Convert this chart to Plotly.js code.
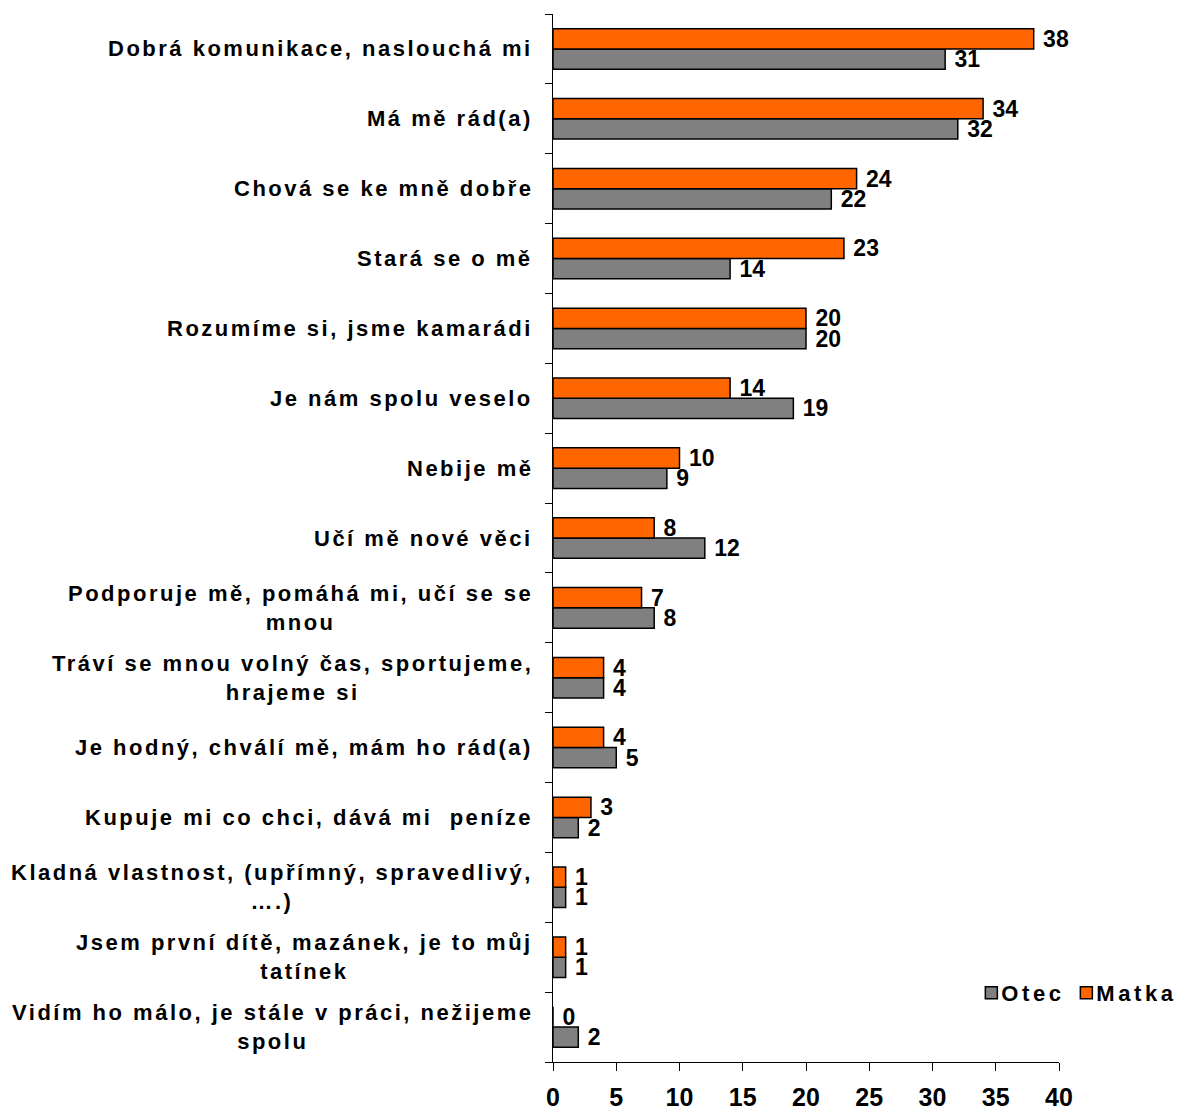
<!DOCTYPE html>
<html>
<head>
<meta charset="utf-8">
<script src="https://cdn.plot.ly/plotly-3.0.1.min.js"></script>
<style>
  html, body { margin: 0; padding: 0; background: #fff; overflow: hidden; }
  .annotation-text { letter-spacing: 2.5px; }
  .legendtext { letter-spacing: 3.6px; }
  .legendsymbols { transform: translateX(10px); }
  .legend .scrollbox { clip-path: none !important; }
</style>
</head>
<body>
<div id="chart" style="width:1177px;height:1111px;"></div>
<script>
// Categories, top to bottom as in the reference
const categories = [
  "Dobrá komunikace, naslouchá mi",
  "Má mě rád(a)",
  "Chová se ke mně dobře",
  "Stará se o mě",
  "Rozumíme si, jsme kamarádi",
  "Je nám spolu veselo",
  "Nebije mě",
  "Učí mě nové věci",
  "Podporuje mě, pomáhá mi, učí se se mnou",
  "Tráví se mnou volný čas, sportujeme, hrajeme si",
  "Je hodný, chválí mě, mám ho rád(a)",
  "Kupuje mi co chci, dává mi  peníze",
  "Kladná vlastnost, (upřímný, spravedlivý, ….)",
  "Jsem první dítě, mazánek, je to můj tatínek",
  "Vidím ho málo, je stále v práci, nežijeme spolu"
];
// Displayed (wrapped) labels
const labels = [
  "Dobrá komunikace, naslouchá mi",
  "Má mě rád(a)",
  "Chová se ke mně dobře",
  "Stará se o mě",
  "Rozumíme si, jsme kamarádi",
  "Je nám spolu veselo",
  "Nebije mě",
  "Učí mě nové věci",
  "Podporuje mě, pomáhá mi, učí se se<br>mnou",
  "Tráví se mnou volný čas, sportujeme,<br>hrajeme si",
  "Je hodný, chválí mě, mám ho rád(a)",
  "Kupuje mi co chci, dává mi  peníze",
  "Kladná vlastnost, (upřímný, spravedlivý,<br>….)",
  "Jsem první dítě, mazánek, je to můj<br>tatínek",
  "Vidím ho málo, je stále v práci, nežijeme<br>spolu"
];
const otec  = [31, 32, 22, 14, 20, 19, 9, 12, 8, 4, 5, 2, 1, 1, 2];
const matka = [38, 34, 24, 23, 20, 14, 10, 8, 7, 4, 4, 3, 1, 1, 0];
const xTicks = [0, 5, 10, 15, 20, 25, 30, 35, 40];

const FONT = "Liberation Sans, Arial, sans-serif";
const order = categories.slice().reverse();

const common = {
  type: 'bar',
  orientation: 'h',
  y: categories,
  texttemplate: '\u00a0%{x}',
  textposition: 'outside',
  constraintext: 'none',
  cliponaxis: false,
  textfont: {family: FONT, size: 23, color: '#000', weight: 'bold'},
  hoverinfo: 'none'
};

const traces = [
  Object.assign({}, common, {
    name: 'Otec',
    x: otec,
    marker: {color: '#808080', line: {color: '#000', width: 1.5}}
  }),
  Object.assign({}, common, {
    name: 'Matka',
    x: matka,
    marker: {color: '#FF6600', line: {color: '#000', width: 1.5}}
  })
];

const annotations = labels.map((t, i) => ({
  xref: 'paper', yref: 'y',
  x: 0, y: categories.length - 1 - i,
  xanchor: 'right', yanchor: 'middle',
  xshift: -18,
  align: 'center',
  showarrow: false,
  text: t,
  font: {family: FONT, size: 22, color: '#000', weight: 'bold'}
}));

const layout = {
  width: 1177, height: 1111,
  margin: {l: 553, r: 118, t: 14, b: 49, autoexpand: false},
  paper_bgcolor: '#fff', plot_bgcolor: '#fff',
  barmode: 'group',
  bargap: 0.42,
  bargroupgap: 0,
  showlegend: true,
  legend: {
    orientation: 'h',
    xref: 'paper',
    x: 0.807, xanchor: 'left',
    y: 0.066, yanchor: 'middle',
    traceorder: 'normal',
    entrywidth: 50,
    font: {family: FONT, size: 22, color: '#000', weight: 'bold'},
    itemwidth: 30,
    bgcolor: 'rgba(0,0,0,0)'
  },
  xaxis: {
    range: [0, 40],
    tickvals: xTicks,
    ticktext: xTicks.map(String),
    ticks: 'outside', ticklen: 8, tickcolor: '#000', tickwidth: 1,
    ticklabelstandoff: 5,
    showline: true, linecolor: '#000', linewidth: 1,
    showgrid: false, zeroline: false,
    tickfont: {family: FONT, size: 25, color: '#000', weight: 'bold'},
    fixedrange: true
  },
  yaxis: {
    type: 'category',
    categoryorder: 'array',
    categoryarray: order,
    range: [-0.5, categories.length - 0.5],
    tickson: 'boundaries',
    ticks: 'outside', ticklen: 7, tickcolor: '#000', tickwidth: 1,
    showline: true, linecolor: '#000', linewidth: 1,
    showgrid: false, zeroline: false,
    showticklabels: false,
    fixedrange: true
  },
  annotations: annotations
};

Plotly.newPlot('chart', traces, layout, {displayModeBar: false, staticPlot: true});
</script>
</body>
</html>
